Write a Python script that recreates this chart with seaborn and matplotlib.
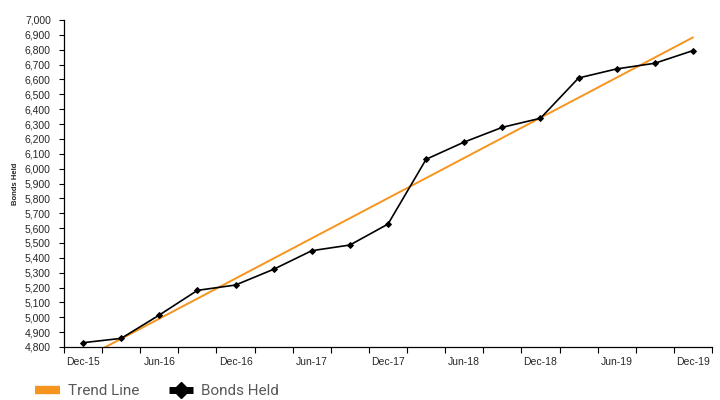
import numpy as np
import pandas as pd
import matplotlib.pyplot as plt
from matplotlib.lines import Line2D
import seaborn as sns

# Dados trimestrais (Dec-15 .. Dec-19)
quarters = ["Dec-15", "Mar-16", "Jun-16", "Sep-16", "Dec-16", "Mar-17", "Jun-17",
            "Sep-17", "Dec-17", "Mar-18", "Jun-18", "Sep-18", "Dec-18", "Mar-19",
            "Jun-19", "Sep-19", "Dec-19"]
bonds_held = [4829, 4858, 5015, 5181, 5217, 5323, 5448, 5486, 5627, 6063,
              6179, 6278, 6339, 6610, 6671, 6709, 6794]
y_ticks = list(range(4800, 7001, 100))

ORANGE = "#F7941D"

sns.set_theme(style="white")
plt.rcParams["font.family"] = ["Liberation Sans", "DejaVu Sans"]

df = pd.DataFrame({"idx": np.arange(len(quarters)), "quarter": quarters,
                   "bonds": bonds_held})

fig = plt.figure(figsize=(7.2, 4.0), dpi=100)
ax = fig.add_axes([0.0889, 0.1325, 0.9, 0.8175])

# Linha de tendência (regressão linear)
sns.regplot(data=df, x="idx", y="bonds", ax=ax, scatter=False, ci=None,
            truncate=True, color=ORANGE, line_kws={"linewidth": 1.4})
sns.lineplot(data=df, x="idx", y="bonds", ax=ax, color="black", linewidth=1.2,
             marker="D", markersize=3.0, markeredgecolor="black")

ax.set_xlim(-0.5, len(quarters) - 0.5)
ax.set_ylim(4800, 7000)
ax.set_yticks(y_ticks)
ax.set_yticklabels([f"{v:,}" for v in y_ticks], fontsize=7.5)

ax.set_xticks(df["idx"][::2])
ax.set_xticklabels(df["quarter"][::2], fontsize=7.5)
ax.set_xticks(np.arange(-0.5, len(quarters), 1), minor=True)
ax.tick_params(axis="x", which="major", length=0, pad=7)
ax.tick_params(axis="x", which="minor", length=4, width=0.8, color="black",
               direction="out", bottom=True)
ax.tick_params(axis="y", length=3.5, width=0.8, color="black", direction="out",
               left=True, pad=6)

ax.set_xlabel("")
ax.set_ylabel("Bonds Held", fontsize=5.5, fontweight="bold", labelpad=4)

for side in ["top", "right"]:
    ax.spines[side].set_visible(False)
for side in ["left", "bottom"]:
    ax.spines[side].set_color("black")
    ax.spines[side].set_linewidth(0.9)

handles = [
    Line2D([0], [0], color=ORANGE, linewidth=6, solid_capstyle="butt"),
    Line2D([0], [0], color="black", linewidth=5, marker="D", markersize=8,
           solid_capstyle="butt"),
]
fig.legend(handles, ["Trend Line", "Bonds Held"], loc="center left",
           bbox_to_anchor=(0.03, 0.022), ncol=2, frameon=False, fontsize=11,
           labelcolor="#595959", handlelength=1.6, columnspacing=1.9,
           handletextpad=0.55, prop={"family": "Roboto", "size": 11})

fig.savefig("out.png", dpi=100)
